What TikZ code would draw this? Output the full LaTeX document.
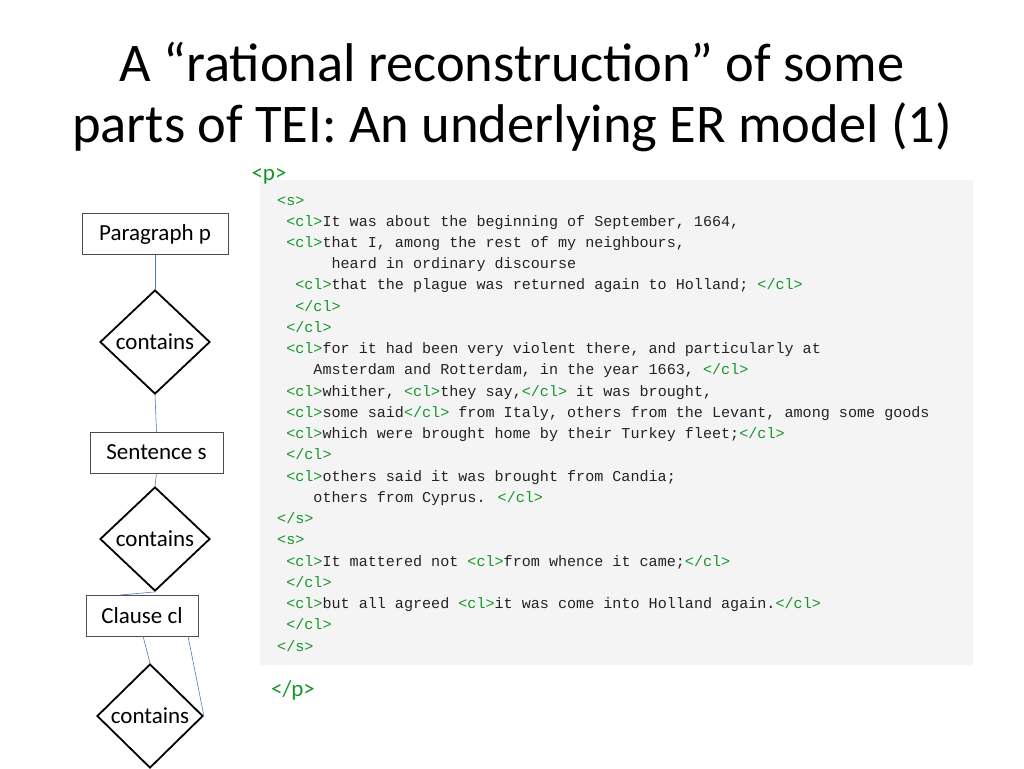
\documentclass[tikz,border=0pt]{standalone}
\usepackage{fontspec}
\setmainfont{Carlito}
\newfontfamily\codefont{Liberation Mono}
\usetikzlibrary{shapes.geometric}
\definecolor{tg}{RGB}{20,150,40}
\definecolor{lnk}{RGB}{80,120,190}
\definecolor{bgc}{RGB}{244,244,244}
\definecolor{txt}{RGB}{35,35,35}
\begin{document}
\begin{tikzpicture}[x=1pt,y=-1pt,
 ent/.style={draw=black!70,line width=0.8pt,inner sep=0pt,font=\fontsize{23}{23}\selectfont},
 rel/.style={draw,line width=1.8pt,diamond,minimum width=110pt,minimum height=104pt,inner sep=0pt,font=\fontsize{23}{23}\selectfont},
 lk/.style={draw=lnk,line width=0.6pt},
 tag/.style={text=tg}]
\useasboundingbox (0,0) rectangle (1024,768);
\node[align=center,font=\fontsize{54.5}{61}\selectfont] (title) at (512,97) {A “rational reconstruction” of some\\parts of TEI: An underlying ER model (1)};
\fill[bgc] (260,180) rectangle (973,665);
\node[tag,font=\fontsize{23}{23}\selectfont] (pop) at (269,176) {<p>};
\node[tag,font=\fontsize{23}{23}\selectfont] (pcl) at (293,690) {</p>};
\node[ent,minimum width=146pt,minimum height=41pt] (para) at (155,234) {Paragraph p};
\node[rel] (c1) at (155,342) {contains};
\node[ent,minimum width=133pt,minimum height=41pt] (sent) at (156.5,452.5) {Sentence s};
\node[rel] (c2) at (155,539) {contains};
\node[ent,minimum width=112pt,minimum height=41pt] (cla) at (142,615.5) {Clause cl};
\node[rel,minimum width=106pt] (c3) at (150,716) {contains};
\draw[lk] (para.south) -- (c1.north);
\draw[lk] (c1.south) -- (sent.north);
\draw[lk] (sent.south) -- (c2.north);
\draw[lk] (c2.south) -- (120,595);
\draw[lk] (143,636) -- (c3.north);
\draw[lk] (188,636) -- (c3.east);
\node[anchor=north west,inner sep=0pt,align=left,text=txt,font=\codefont\fontsize{15.1}{21.24}\selectfont] (code) at (277,196) {%
\textcolor{tg}{<s>}\\
\ \textcolor{tg}{<cl>}It was about the beginning of September, 1664,\\
\ \textcolor{tg}{<cl>}that I, among the rest of my neighbours,\\
\ \ \ \ \ \ heard in ordinary discourse\\
\ \ \textcolor{tg}{<cl>}that the plague was returned again to Holland; \textcolor{tg}{</cl>}\\
\ \ \textcolor{tg}{</cl>}\\
\ \textcolor{tg}{</cl>}\\
\ \textcolor{tg}{<cl>}for it had been very violent there, and particularly at\\
\ \ \ \ Amsterdam and Rotterdam, in the year 1663, \textcolor{tg}{</cl>}\\
\ \textcolor{tg}{<cl>}whither, \textcolor{tg}{<cl>}they say,\textcolor{tg}{</cl>} it was brought,\\
\ \textcolor{tg}{<cl>}some said\textcolor{tg}{</cl>} from Italy, others from the Levant, among some goods\\
\ \textcolor{tg}{<cl>}which were brought home by their Turkey fleet;\textcolor{tg}{</cl>}\\
\ \textcolor{tg}{</cl>}\\
\ \textcolor{tg}{<cl>}others said it was brought from Candia;\\
\ \ \ \ others from Cyprus. \textcolor{tg}{</cl>}\\
\textcolor{tg}{</s>}\\
\textcolor{tg}{<s>}\\
\ \textcolor{tg}{<cl>}It mattered not \textcolor{tg}{<cl>}from whence it came;\textcolor{tg}{</cl>}\\
\ \textcolor{tg}{</cl>}\\
\ \textcolor{tg}{<cl>}but all agreed \textcolor{tg}{<cl>}it was come into Holland again.\textcolor{tg}{</cl>}\\
\ \textcolor{tg}{</cl>}\\
\textcolor{tg}{</s>}};
\end{tikzpicture}
\end{document}
